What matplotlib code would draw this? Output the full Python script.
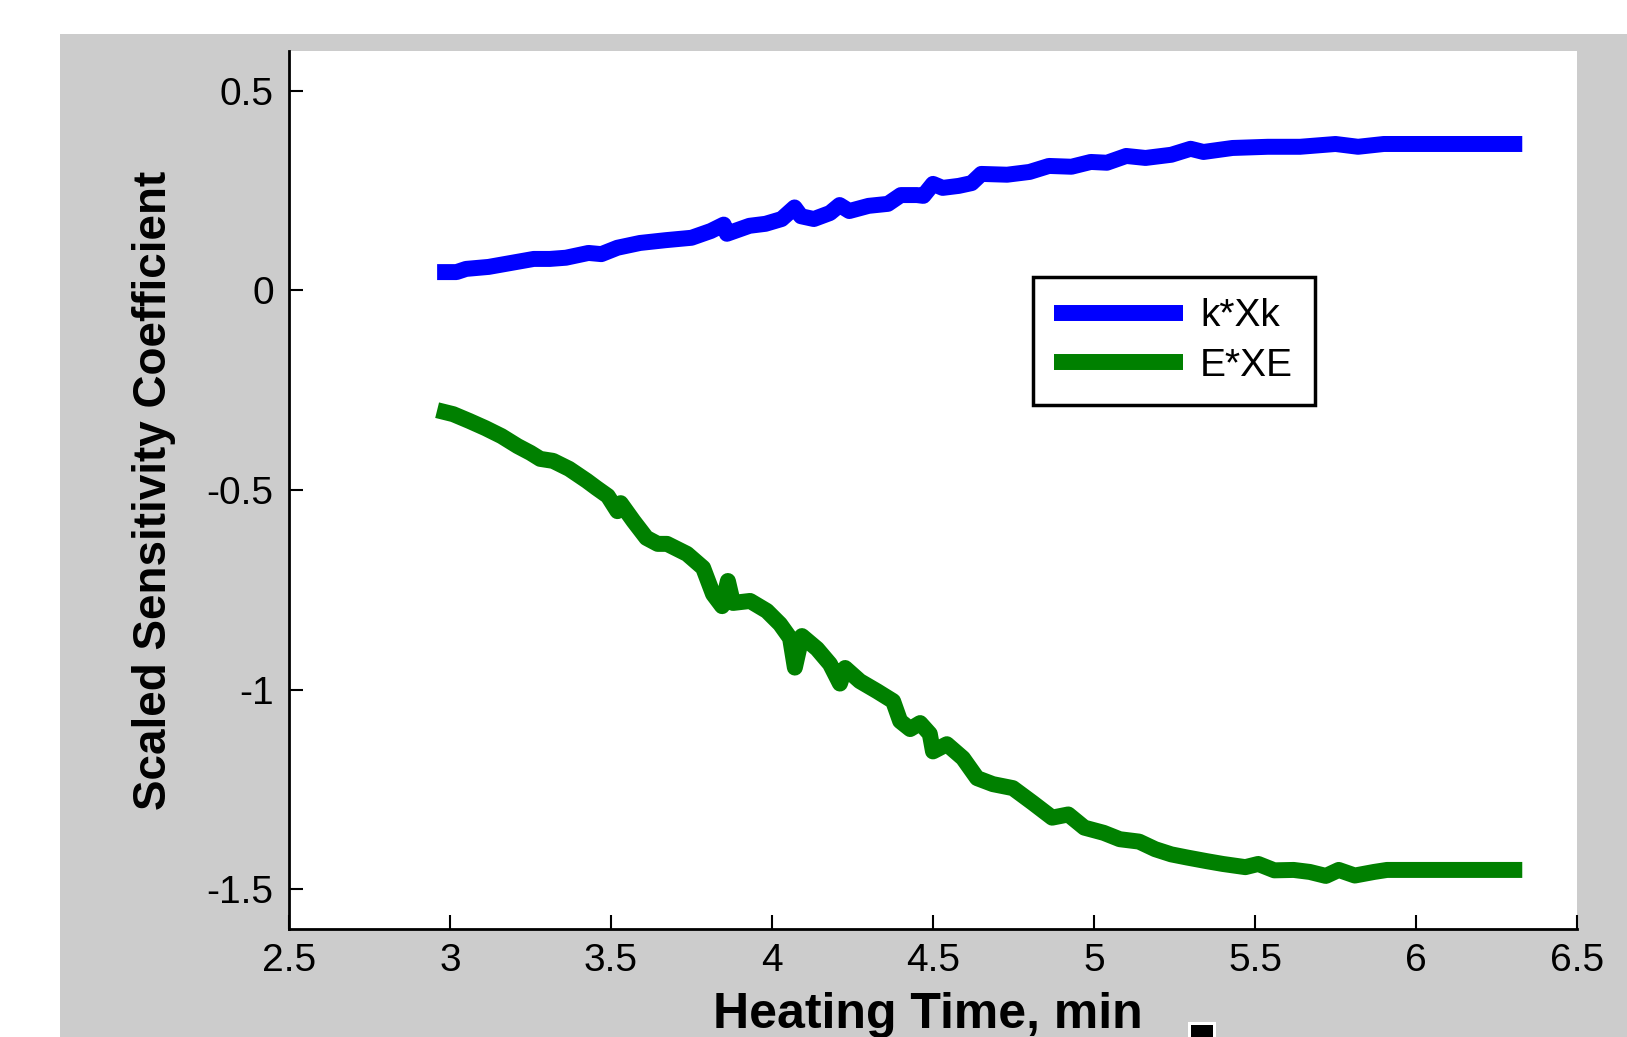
import numpy as np
import matplotlib
matplotlib.use("Agg")
from matplotlib import pyplot as plt
from matplotlib.patches import Rectangle

plt.rcParams['font.family'] = ['Liberation Sans', 'DejaVu Sans']

# k*Xk curve (blue)
kx = [2.96, 3.02, 3.05, 3.12, 3.19, 3.26, 3.31, 3.36, 3.43, 3.47, 3.52, 3.59, 3.67,
      3.75, 3.81, 3.85, 3.86, 3.93, 3.98, 4.03, 4.07, 4.09, 4.13, 4.18, 4.21, 4.24,
      4.30, 4.36, 4.40, 4.45, 4.47, 4.50, 4.53, 4.58, 4.62, 4.65, 4.73, 4.80, 4.86,
      4.93, 4.99, 5.04, 5.10, 5.16, 5.24, 5.30, 5.34, 5.43, 5.54, 5.64, 5.75, 5.82,
      5.90, 6.10, 6.33]
ky = [0.046, 0.046, 0.054, 0.059, 0.069, 0.079, 0.079, 0.082, 0.094, 0.091, 0.107,
      0.119, 0.126, 0.132, 0.149, 0.165, 0.142, 0.162, 0.167, 0.179, 0.208, 0.186,
      0.179, 0.194, 0.214, 0.199, 0.212, 0.217, 0.239, 0.239, 0.237, 0.267, 0.257,
      0.262, 0.269, 0.292, 0.290, 0.297, 0.312, 0.310, 0.322, 0.320, 0.337, 0.332,
      0.340, 0.355, 0.347, 0.357, 0.360, 0.360, 0.367, 0.360, 0.367, 0.367, 0.367]

# E*XE curve (green)
ex = [2.96, 3.01, 3.06, 3.11, 3.16, 3.21, 3.25, 3.28, 3.32, 3.37, 3.425, 3.455,
      3.49, 3.52, 3.53, 3.57, 3.61, 3.645, 3.674, 3.736, 3.786, 3.817, 3.845, 3.863,
      3.879, 3.932, 3.984, 4.025, 4.056, 4.071, 4.093, 4.14, 4.18, 4.211, 4.227,
      4.273, 4.326, 4.376, 4.398, 4.429, 4.46, 4.49, 4.50, 4.543, 4.593, 4.637,
      4.686, 4.748, 4.81, 4.87, 4.92, 4.97, 5.03, 5.08, 5.14, 5.19, 5.24, 5.29,
      5.35, 5.40, 5.47, 5.51, 5.56, 5.62, 5.67, 5.72, 5.76, 5.81, 5.87, 5.91, 6.33]
ey = [-0.300, -0.310, -0.327, -0.345, -0.365, -0.390, -0.407, -0.422, -0.427,
      -0.447, -0.477, -0.495, -0.515, -0.553, -0.533, -0.578, -0.620, -0.635,
      -0.635, -0.660, -0.695, -0.761, -0.791, -0.728, -0.783, -0.778, -0.803,
      -0.836, -0.871, -0.945, -0.866, -0.898, -0.936, -0.985, -0.946, -0.979,
      -1.004, -1.029, -1.079, -1.099, -1.084, -1.111, -1.155, -1.137, -1.172,
      -1.222, -1.237, -1.247, -1.284, -1.321, -1.313, -1.346, -1.359, -1.375,
      -1.381, -1.400, -1.413, -1.421, -1.430, -1.437, -1.445, -1.437, -1.453,
      -1.452, -1.457, -1.467, -1.452, -1.466, -1.457, -1.452, -1.452]

xticks = [2.5, 3, 3.5, 4, 4.5, 5, 5.5, 6, 6.5]
xtick_labels = ['2.5', '3', '3.5', '4', '4.5', '5', '5.5', '6', '6.5']
yticks = [-1.5, -1, -0.5, 0, 0.5]
ytick_labels = ['-1.5', '-1', '-0.5', '0', '0.5']

W, H = 1627, 1037
fig = plt.figure(figsize=(W / 100, H / 100), dpi=100, facecolor='white')

# MATLAB-like grey figure area (behind the axes)
fig.patches.append(Rectangle((60 / W, 0), 1 - 60 / W, (H - 34) / H,
                             transform=fig.transFigure, facecolor='#cccccc',
                             edgecolor='none', zorder=-10))
# little black marker at bottom
fig.patches.append(Rectangle((1188 / W, 0), 28 / W, 15 / H, transform=fig.transFigure,
                             facecolor='white', edgecolor='none', zorder=-5))
fig.patches.append(Rectangle((1191 / W, 0), 22 / W, 12 / H, transform=fig.transFigure,
                             facecolor='black', edgecolor='none', zorder=-4))

ax = fig.add_axes([289 / W, (H - 929) / H, (1577 - 289) / W, (929 - 51) / H])
ax.set_facecolor('white')

ax.plot(kx, ky, color='#0000ff', lw=11.5, solid_capstyle='butt', solid_joinstyle='round',
        label='k*Xk')
ax.plot(ex, ey, color='#008000', lw=11.5, solid_capstyle='butt', solid_joinstyle='round',
        label='E*XE')

ax.set_xlim(2.5, 6.5)
ax.set_ylim(-1.6, 0.6)
ax.set_xticks(xticks)
ax.set_xticklabels(xtick_labels)
ax.set_yticks(yticks)
ax.set_yticklabels(ytick_labels)
ax.tick_params(direction='in', length=10, width=1.5, labelsize=28, color='black')
ax.tick_params(axis='x', pad=10)
ax.tick_params(axis='y', pad=11)

for s in ['top', 'right']:
    ax.spines[s].set_visible(False)
for s in ['left', 'bottom']:
    ax.spines[s].set_linewidth(2)

ax.set_xlabel('Heating Time, min', fontsize=36, fontweight='bold')
ax.set_ylabel('Scaled Sensitivity Coefficient', fontsize=33, fontweight='bold')
ax.xaxis.set_label_coords(0.496, -0.072)
ax.yaxis.set_label_coords(-0.0877, 0.5)

leg = ax.legend(loc='upper left', bbox_to_anchor=(1033 / W, 1 - 277 / H),
                bbox_transform=fig.transFigure, borderaxespad=0, fontsize=28,
                handlelength=3.3, handletextpad=0.45, borderpad=0.55,
                labelspacing=0.35, fancybox=False, framealpha=1, edgecolor='black')
leg.get_frame().set_linewidth(2.5)

fig.savefig('out.png', dpi=100, facecolor='white')
